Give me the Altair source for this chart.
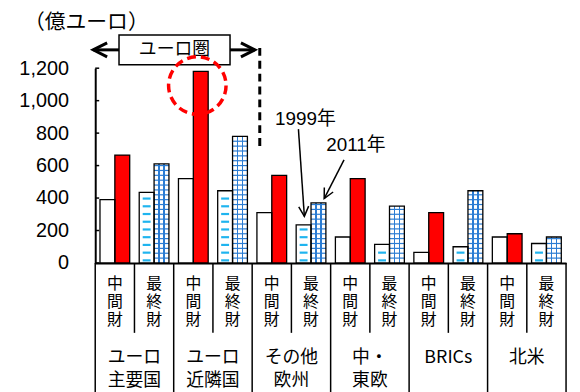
import altair as alt
import pandas as pd
import math

# ---------------- data ----------------
groups = ["ユーロ主要国", "ユーロ近隣国", "その他欧州", "中・東欧", "BRICs", "北米"]
group_line1 = ["ユーロ", "ユーロ", "その他", "中・", "BRICs", "北米"]
group_line2 = ["主要国", "近隣国", "欧州", "東欧", "", ""]
types = ["中間財", "最終財"]
years = ["1999", "2011"]

inter_1999 = [390, 520, 310, 160, 65, 160]
inter_2011 = [665, 1180, 540, 520, 310, 180]
final_1999 = [435, 445, 235, 115, 100, 120]
final_2011 = [610, 780, 370, 350, 445, 160]

y_ticks = [0, 200, 400, 600, 800, 1000, 1200]

# annotation geometry (pixels, relative to plot origin)
title_text = "（億ユーロ）"
title_pos = (-9, -46)
box_text = "ユーロ圏"
box_rect = (24, 136, -33.5, -3.5)
box_arrow_left = (-2, 24, -18.5)
box_arrow_right = (136, 161, -18.5)
divider = (166, -20.5, 79.5)
circle_pos = (103, 17.5)
label_1999 = ("1999年", 212, 51.5)
label_2011 = ("2011年", 263, 77.5)
arrow_1999 = (205, 61.5, 211, 149.5)
arrow_2011 = (251, 92.5, 231, 131.5)

# ---------------- tables ----------------
subs = [f"{g}|{t}" for g in groups for t in types]
rows = []
for i, g in enumerate(groups):
    rows.append(dict(sub=f"{g}|中間財", year="1999", value=inter_1999[i], kind="w"))
    rows.append(dict(sub=f"{g}|中間財", year="2011", value=inter_2011[i], kind="r"))
    rows.append(dict(sub=f"{g}|最終財", year="1999", value=final_1999[i], kind="d"))
    rows.append(dict(sub=f"{g}|最終財", year="2011", value=final_2011[i], kind="g"))
df = pd.DataFrame(rows)

# pattern strokes derived from the bar values
grid_step = 30
dash_start, dash_step = 16, 47.6
grid_rows, dash_rows = [], []
for i, g in enumerate(groups):
    lv = grid_step
    while lv < final_2011[i] - 6:
        grid_rows.append(dict(sub=f"{g}|最終財", year="2011", level=lv))
        lv += grid_step
    lv = dash_start
    while lv < final_1999[i] - 22:
        dash_rows.append(dict(sub=f"{g}|最終財", year="1999", level=lv))
        lv += dash_step
grid_df = pd.DataFrame(grid_rows)
dash_df = pd.DataFrame(dash_rows)

sub_df = pd.DataFrame({
    "sub": subs,
    "c1": [types[k % 2][0] for k in range(len(subs))],
    "c2": [types[k % 2][1] for k in range(len(subs))],
    "c3": [types[k % 2][2] for k in range(len(subs))],
    "idx": list(range(len(subs))),
})
grp_df = pd.DataFrame({"sub": [f"{g}|中間財" for g in groups], "l1": group_line1, "l2": group_line2})
tick_df = pd.DataFrame({"tick": y_ticks})
one = pd.DataFrame({"a": [0]})

# ---------------- shared encodings ----------------
JP = "Noto Sans CJK JP"
LAT = "Liberation Sans, Noto Sans CJK JP"

xscale = alt.Scale(domain=subs, paddingInner=0, paddingOuter=0)
xaxis = alt.Axis(labels=False, ticks=False, title=None, domainColor="black", domainWidth=2, grid=False)
oscale = alt.Scale(domain=years, paddingInner=0, paddingOuter=0.32)
yscale = alt.Scale(domain=[0, 1200], nice=False, zero=True)
yaxis = alt.Axis(values=y_ticks, format=",.0f", tickSize=0, labelPadding=27, labelFontSize=20,
                 labelFont="Liberation Sans", labelColor="black", domainColor="black",
                 domainWidth=2, grid=False, title=None)


def X(bp=None):
    if bp is None:
        return alt.X("sub:N", scale=xscale, axis=xaxis, title=None)
    return alt.X("sub:N", scale=xscale, axis=xaxis, title=None, bandPosition=bp)


XO = alt.XOffset("year:N", scale=oscale)


def Y(field):
    return alt.Y(f"{field}:Q", scale=yscale, axis=yaxis, title=None)


bars = alt.Chart(df).encode(x=X(), xOffset=XO, y=Y("value"))

grid_fill = {
    "gradient": "linear", "x1": 0, "x2": 1, "y1": 0, "y2": 0,
    "stops": [
        {"offset": 0, "color": "#ffffff"},
        {"offset": 0.29, "color": "#ffffff"},
        {"offset": 0.29, "color": "#2b7cd3"},
        {"offset": 0.38, "color": "#2b7cd3"},
        {"offset": 0.38, "color": "#ffffff"},
        {"offset": 0.62, "color": "#ffffff"},
        {"offset": 0.62, "color": "#2b7cd3"},
        {"offset": 0.71, "color": "#2b7cd3"},
        {"offset": 0.71, "color": "#ffffff"},
        {"offset": 1, "color": "#ffffff"},
    ],
}

b_white = bars.transform_filter("datum.kind == 'w' || datum.kind == 'd'").mark_bar(fill="#ffffff", strokeWidth=0)
b_red = bars.transform_filter("datum.kind == 'r'").mark_bar(fill="#ff0000", strokeWidth=0)
b_grid = bars.transform_filter("datum.kind == 'g'").mark_bar(fill=grid_fill, strokeWidth=0)

t_grid = alt.Chart(grid_df).mark_tick(color="#2b7cd3", thickness=1.2, size=15, opacity=1).encode(
    x=X(), xOffset=XO, y=Y("level"))
t_dash = alt.Chart(dash_df).mark_tick(color="#1fb4ef", thickness=2.2, size=8, opacity=1).encode(
    x=X(), xOffset=XO, y=Y("level"))

b_outline = bars.mark_bar(fillOpacity=0, stroke="black", strokeWidth=1.3)

ticks_in = alt.Chart(tick_df).mark_rule(color="black", strokeWidth=1.5).encode(
    y=Y("tick"), x=alt.value(0), x2=alt.value(4))

# ---------------- category table below the axis ----------------
sep_short = alt.Chart(sub_df).transform_filter("datum.idx % 2 == 1").mark_rule(
    color="black", strokeWidth=1.5).encode(x=X(0), y=alt.value(196.5), y2=alt.value(267))
sep_long = alt.Chart(sub_df).transform_filter("datum.idx % 2 == 0").mark_rule(
    color="black", strokeWidth=1.5).encode(x=X(0), y=alt.value(196.5), y2=alt.value(330))
sep_end = alt.Chart(sub_df).transform_filter(f"datum.idx == {len(subs) - 1}").mark_rule(
    color="black", strokeWidth=1.5).encode(x=X(1), y=alt.value(196.5), y2=alt.value(330))


def sub_char(col, yy):
    return alt.Chart(sub_df).mark_text(font=JP, fontSize=16, baseline="middle", color="black").encode(
        x=X(), y=alt.value(yy), text=f"{col}:N")


sub_texts = [sub_char("c1", 217.5), sub_char("c2", 236), sub_char("c3", 254.5)]

grp_text1 = alt.Chart(grp_df).mark_text(font=JP, fontSize=18, baseline="middle", color="black").encode(
    x=X(1), y=alt.value(292), text="l1:N")
grp_text2 = alt.Chart(grp_df).mark_text(font=JP, fontSize=18, baseline="middle", color="black").encode(
    x=X(1), y=alt.value(316), text="l2:N")

# ---------------- annotations ----------------
title = alt.Chart(one).mark_text(text=title_text, font=JP, fontSize=21, baseline="middle",
                                 align="center", color="black").encode(
    x=alt.value(title_pos[0]), y=alt.value(title_pos[1]))

box = alt.Chart(one).mark_rect(fill="white", stroke="black", strokeWidth=1.5).encode(
    x=alt.value(box_rect[0]), x2=alt.value(box_rect[1]), y=alt.value(box_rect[2]), y2=alt.value(box_rect[3]))
box_lbl = alt.Chart(one).mark_text(text=box_text, font=JP, fontSize=18, baseline="middle",
                                   align="center", color="black").encode(
    x=alt.value((box_rect[0] + box_rect[1]) / 2), y=alt.value((box_rect[2] + box_rect[3]) / 2))

CHEV = "M-2,-1L0,0L-2,1"
arr_l = alt.Chart(one).mark_rule(color="black", strokeWidth=3).encode(
    x=alt.value(box_arrow_left[0]), x2=alt.value(box_arrow_left[1]),
    y=alt.value(box_arrow_left[2]), y2=alt.value(box_arrow_left[2]))
arr_r = alt.Chart(one).mark_rule(color="black", strokeWidth=3).encode(
    x=alt.value(box_arrow_right[0]), x2=alt.value(box_arrow_right[1]),
    y=alt.value(box_arrow_right[2]), y2=alt.value(box_arrow_right[2]))
head_l = alt.Chart(one).mark_point(shape=CHEV, size=196, filled=False, color="black", strokeWidth=3,
                                   opacity=1, strokeJoin="miter").encode(
    x=alt.value(box_arrow_left[0]), y=alt.value(box_arrow_left[2]), angle=alt.value(180))
head_r = alt.Chart(one).mark_point(shape=CHEV, size=196, filled=False, color="black", strokeWidth=3,
                                   opacity=1, strokeJoin="miter").encode(
    x=alt.value(box_arrow_right[1]), y=alt.value(box_arrow_right[2]), angle=alt.value(0))

div_line = alt.Chart(one).mark_rule(color="black", strokeWidth=3, strokeDash=[8, 5]).encode(
    x=alt.value(divider[0]), y=alt.value(divider[1]), y2=alt.value(divider[2]))

circle = alt.Chart(one).mark_point(shape="circle", size=58 * 58, filled=False, color="#ff0000",
                                   strokeWidth=3.5, strokeDash=[9, 5], opacity=1).encode(
    x=alt.value(circle_pos[0]), y=alt.value(circle_pos[1]))

lbl99 = alt.Chart(one).mark_text(text=label_1999[0], font=LAT, fontSize=19, baseline="middle",
                                 align="center", color="black").encode(
    x=alt.value(label_1999[1]), y=alt.value(label_1999[2]))
lbl11 = alt.Chart(one).mark_text(text=label_2011[0], font=LAT, fontSize=19, baseline="middle",
                                 align="center", color="black").encode(
    x=alt.value(label_2011[1]), y=alt.value(label_2011[2]))


def arrow(seg):
    x0, y0, x1, y1 = seg
    ang = math.degrees(math.atan2(y1 - y0, x1 - x0)) % 360
    line = alt.Chart(one).mark_rule(color="black", strokeWidth=1.5).encode(
        x=alt.value(x0), y=alt.value(y0), x2=alt.value(x1), y2=alt.value(y1))
    head = alt.Chart(one).mark_point(shape=CHEV, size=100, filled=False, color="black",
                                     strokeWidth=1.5, opacity=1).encode(
        x=alt.value(x1), y=alt.value(y1), angle=alt.value(ang))
    return [line, head]


layers = [b_white, b_red, b_grid, t_grid, t_dash, b_outline, ticks_in,
          sep_short, sep_long, sep_end] + sub_texts + [grp_text1, grp_text2,
          title, box, box_lbl, arr_l, arr_r, head_l, head_r, div_line, circle,
          lbl99, lbl11] + arrow(arrow_1999) + arrow(arrow_2011)

chart = alt.layer(*layers).properties(
    width=475, height=196.5,
    padding={"left": 10, "top": 2, "right": 5, "bottom": 0},
    background="white",
).configure_view(stroke=None)

chart.save("out.html", embed_options={"renderer": "svg", "actions": False})
